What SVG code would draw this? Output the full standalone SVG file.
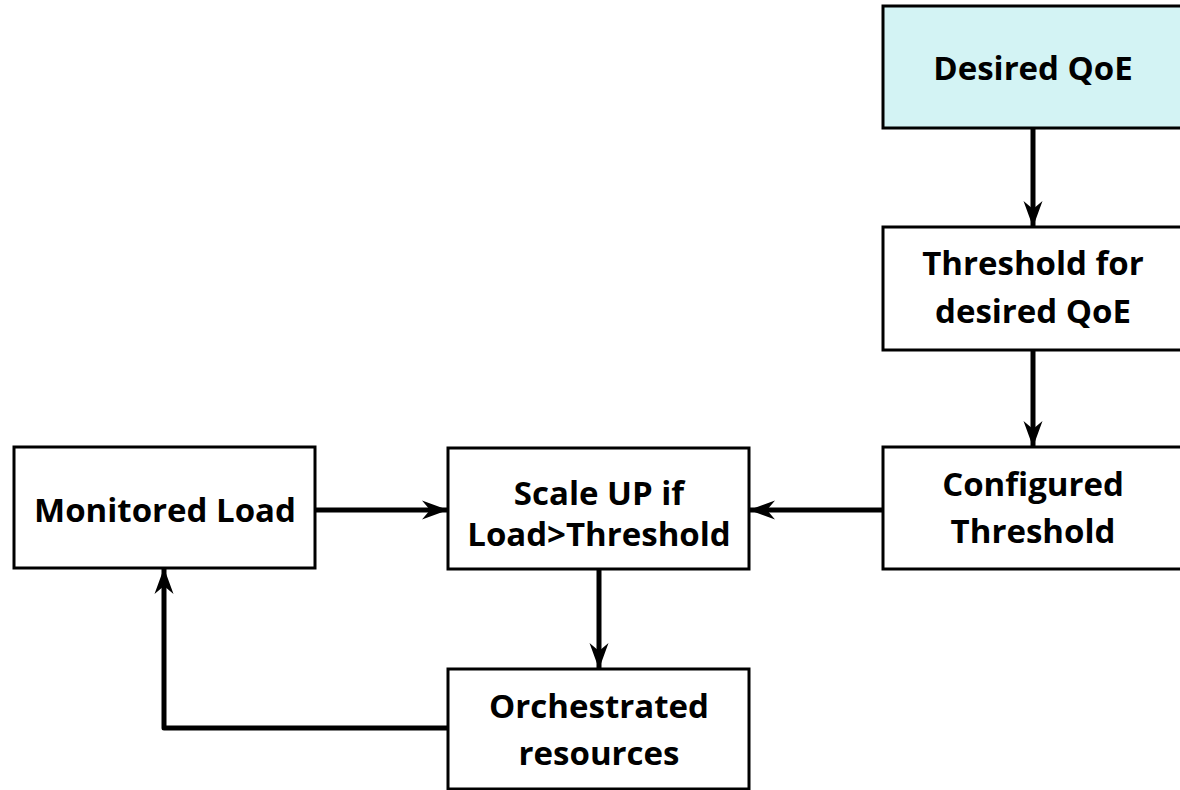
<svg xmlns="http://www.w3.org/2000/svg" width="1180" height="790" viewBox="0 0 1180 790">
<style>
.box{fill:#fff;stroke:#000;stroke-width:3}
.qoe{fill:#d3f3f4}
.t{font-family:"Open Sans","Noto Sans",sans-serif;font-weight:bold;font-size:33px;text-anchor:middle;fill:#000}
.c{fill:none;stroke:#000;stroke-width:5;stroke-linejoin:round}
</style>
<defs>
<marker id="ah" viewBox="0 0 26 20" refX="25" refY="10" markerWidth="26" markerHeight="20" markerUnits="userSpaceOnUse" orient="auto">
<path d="M0,0.5 L26,10 L0,19.5 L8,10 Z" fill="#000"/>
</marker>
</defs>
<g id="connectors">
<line class="c" x1="1033" y1="129" x2="1033" y2="226" marker-end="url(#ah)"/>
<line class="c" x1="1033" y1="351" x2="1033" y2="446" marker-end="url(#ah)"/>
<line class="c" x1="883" y1="510" x2="750" y2="510" marker-end="url(#ah)"/>
<line class="c" x1="316" y1="510" x2="447" y2="510" marker-end="url(#ah)"/>
<line class="c" x1="599" y1="570" x2="599" y2="668" marker-end="url(#ah)"/>
<polyline class="c" points="448,728 164,728 164,569" marker-end="url(#ah)"/>
</g>
<g id="desired-qoe">
<rect class="box qoe" x="883" y="6" width="301" height="122"/>
<text class="t" x="1033" y="80">Desired QoE</text>
</g>
<g id="threshold-desired">
<rect class="box" x="883" y="227" width="301" height="123"/>
<text class="t" x="1033" y="275">Threshold for</text>
<text class="t" x="1033" y="323">desired QoE</text>
</g>
<g id="configured-threshold">
<rect class="box" x="883" y="447" width="301" height="122"/>
<text class="t" x="1033" y="496">Configured</text>
<text class="t" x="1033" y="543">Threshold</text>
</g>
<g id="monitored-load">
<rect class="box" x="14" y="447" width="301" height="121"/>
<text class="t" x="165" y="522">Monitored Load</text>
</g>
<g id="scale-up">
<rect class="box" x="448" y="448" width="301" height="121"/>
<text class="t" x="599" y="505">Scale UP if</text>
<text class="t" x="599" y="546">Load&gt;Threshold</text>
</g>
<g id="orchestrated">
<rect class="box" x="448" y="669" width="301" height="120"/>
<text class="t" x="599" y="718">Orchestrated</text>
<text class="t" x="599" y="765">resources</text>
</g>
</svg>
